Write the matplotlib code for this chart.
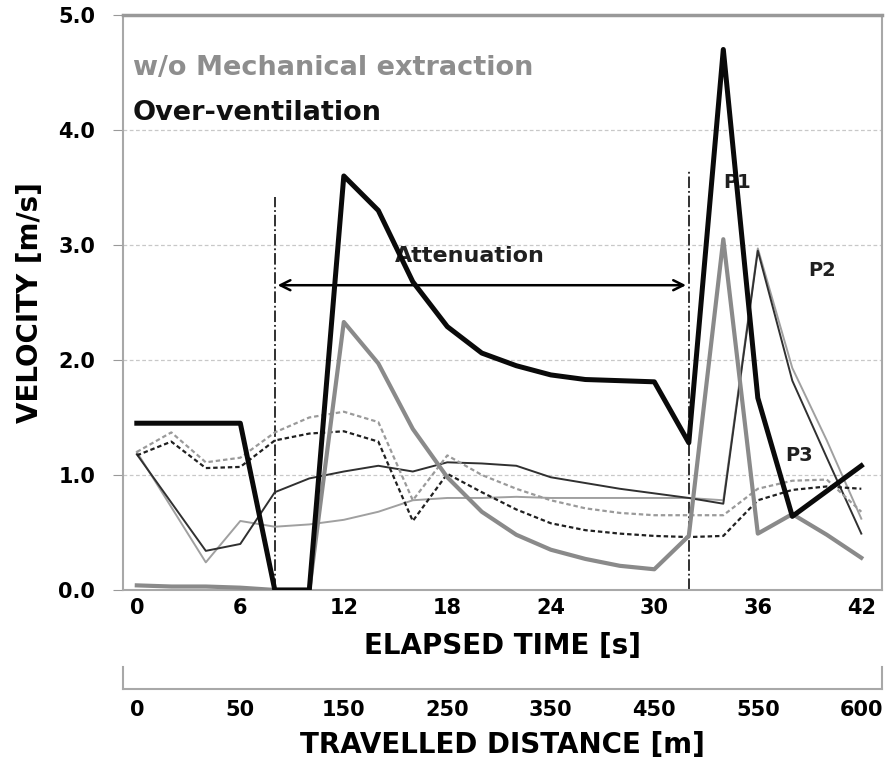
import numpy as np
import matplotlib
matplotlib.use('Agg')
import matplotlib.pyplot as plt

plt.rcParams['font.family'] = ['DejaVu Sans']
plt.rcParams['font.weight'] = 'bold'
plt.rcParams['axes.labelweight'] = 'bold'

# elapsed time [s], one reading every 2 s
time_s = [0, 2, 4, 6, 8, 10, 12, 14, 16, 18, 20, 22, 24, 26, 28, 30, 32, 34, 36, 38, 40, 42]

# thick lines
over_vent = [1.45, 1.45, 1.45, 1.45, 0.0, 0.0, 3.6, 3.3, 2.68, 2.29, 2.06, 1.95, 1.87, 1.83, 1.82, 1.81,
             1.28, 4.7, 1.67, 0.64, 0.86, 1.08]
no_extract = [0.04, 0.03, 0.03, 0.02, 0.0, 0.0, 2.33, 1.97, 1.4, 0.98, 0.68, 0.48, 0.35, 0.27, 0.21, 0.18,
              0.47, 3.05, 0.49, 0.66, 0.48, 0.28]

# thin lines
solid_dark = [1.18, 0.76, 0.34, 0.4, 0.85, 0.97, 1.03, 1.08, 1.03, 1.11, 1.1, 1.08, 0.98, 0.93, 0.88, 0.84,
              0.8, 0.75, 2.95, 1.82, 1.15, 0.49]
solid_light = [1.2, 0.72, 0.24, 0.6, 0.55, 0.57, 0.61, 0.68, 0.78, 0.8, 0.8, 0.81, 0.8, 0.8, 0.8, 0.8,
               0.8, 0.78, 2.97, 1.93, 1.3, 0.62]
dash_dark = [1.17, 1.29, 1.06, 1.07, 1.3, 1.36, 1.38, 1.29, 0.6, 1.01, 0.85, 0.7, 0.58, 0.52, 0.49, 0.47,
             0.46, 0.47, 0.78, 0.87, 0.9, 0.88]
dash_light = [1.2, 1.37, 1.11, 1.15, 1.37, 1.5, 1.55, 1.46, 0.78, 1.17, 1.0, 0.88, 0.78, 0.71, 0.67, 0.65,
              0.65, 0.65, 0.88, 0.95, 0.96, 0.68]

x_ticks = [0, 6, 12, 18, 24, 30, 36, 42]
dist_labels = ['0', '50', '150', '250', '350', '450', '550', '600']

fig = plt.figure(figsize=(8.92, 7.71), dpi=100)
ax = fig.add_axes([0.1379, 0.2348, 0.8509, 0.7458])

ax.plot(time_s, solid_light, color='#a0a0a0', lw=1.4, zorder=3)
ax.plot(time_s, solid_dark, color='#303030', lw=1.4, zorder=3)
ax.plot(time_s, dash_light, color='#9a9a9a', lw=1.6, dashes=(2.0, 1.3), zorder=3)
ax.plot(time_s, dash_dark, color='#202020', lw=1.6, dashes=(2.0, 1.3), zorder=3)
ax.plot(time_s, no_extract, color='#8a8a8a', lw=3.0, zorder=4)
ax.plot(time_s, over_vent, color='#0a0a0a', lw=3.6, zorder=5)

# attenuation window
ax.plot([8, 8], [0, 3.42], color='#202020', lw=1.3, ls='-.', zorder=2)
ax.plot([32, 32], [0, 3.65], color='#202020', lw=1.3, ls='-.', zorder=2)
ax.annotate('', xy=(32, 2.65), xytext=(8, 2.65),
            arrowprops=dict(arrowstyle='<->', color='black', lw=1.8, mutation_scale=18), zorder=2)
ax.text(19.3, 2.9, 'Attenuation', fontsize=16, ha='center', va='center', color='#202020', zorder=2)
ax.text(34.8, 3.54, 'P1', fontsize=14, ha='center', va='center', color='#202020', zorder=1)
ax.text(39.7, 2.78, 'P2', fontsize=14, ha='center', va='center', color='#202020', zorder=1)
ax.text(38.4, 1.17, 'P3', fontsize=14, ha='center', va='center', color='#202020', zorder=2)

ax.text(0.013, 0.908, 'w/o Mechanical extraction', transform=ax.transAxes, fontsize=19.5,
        color='#8e8e8e', va='center')
ax.text(0.013, 0.83, 'Over-ventilation', transform=ax.transAxes, fontsize=19.5,
        color='#111111', va='center')

ax.set_xlim(-0.8, 43.2)
ax.set_ylim(0, 5)
ax.set_yticks([0, 1, 2, 3, 4, 5])
ax.set_yticklabels(['%.1f' % v for v in [0, 1, 2, 3, 4, 5]])
ax.set_xticks(x_ticks)
ax.tick_params(axis='y', length=7, color='#999999', labelsize=15, pad=13)
ax.tick_params(axis='x', length=0, labelsize=15, pad=6)
for y in [1, 2, 3, 4]:
    ax.axhline(y, color='#c8c8c8', lw=0.9, ls=(0, (3, 2)), zorder=0)
for s in ax.spines.values():
    s.set_color('#a8a8a8')
    s.set_linewidth(1.5)
ax.spines['top'].set_linewidth(2.5)
ax.spines['top'].set_color('#999999')
ax.set_xlabel('ELAPSED TIME [s]', fontsize=20, labelpad=10)
ax.set_ylabel('VELOCITY [m/s]', fontsize=20, labelpad=10)

# travelled distance axis
ax2 = fig.add_axes([0.1379, 0.1064, 0.8509, 0.0285])
ax2.set_xlim(-0.8, 43.2)
ax2.set_xticks(x_ticks)
ax2.set_xticklabels(dist_labels)
ax2.set_yticks([])
ax2.patch.set_alpha(0)
ax2.spines['top'].set_visible(False)
for k in ['left', 'right', 'bottom']:
    ax2.spines[k].set_color('#a8a8a8')
    ax2.spines[k].set_linewidth(1.5)
ax2.tick_params(axis='x', length=0, labelsize=15, pad=8)
ax2.set_xlabel('TRAVELLED DISTANCE [m]', fontsize=20, labelpad=8)

fig.savefig('out.png', dpi=100)
